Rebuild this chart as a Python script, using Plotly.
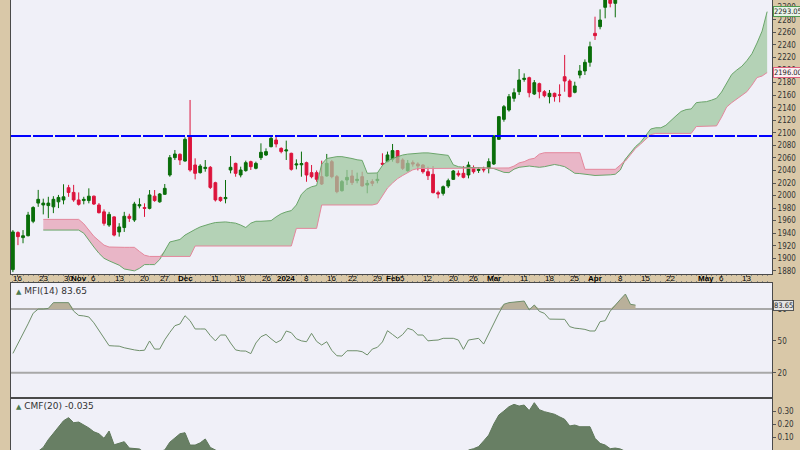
import plotly.graph_objects as go
import pandas as pd

# ---------------- data ----------------
holidays = ["2023-11-23", "2023-12-25", "2024-01-01", "2024-01-15", "2024-02-19", "2024-03-29"]
all_dates = [d.strftime("%Y-%m-%d") for d in pd.bdate_range("2023-10-13", "2024-05-17")
             if d.strftime("%Y-%m-%d") not in holidays]

# OHLC (Oct 13 2023 .. Apr 11 2024)
opens = [1882, 1941, 1933, 1936, 1959, 1988, 1985, 1984, 1982, 1990,
         1993, 2012.5, 2005, 1993, 1992, 1992, 1999, 1985, 1974, 1953,
         1966, 1942, 1949, 1967, 1961, 1983.5, 1981, 1979.6, 1999, 1990,
         2002, 2032.7, 2060.4, 2065.7, 2055, 2092.8, 2048.7, 2036.5, 2043, 2045,
         2020.5, 1997, 1995, 2040.7, 2051.3, 2032.8, 2039.7, 2054, 2043.4, 2060.4,
         2064.6, 2077.9, 2088.5, 2075.2, 2071, 2067.3, 2048.7, 2049, 2052.4, 2036.5,
         2036.5, 2030.1, 2031.2, 2054, 2030.1, 2007.8, 2024.8, 2031.2, 2023.8, 2030.1,
         2016.8, 2022.2, 2023.8, 2051.4, 2054, 2057.8, 2071.6, 2056.7, 2039.7, 2052.4,
         2050.3, 2048.7, 2038, 2033.8, 2004.6, 2003.5, 2015.2, 2025.8, 2035.4, 2035.4,
         2032.8, 2043.4, 2040, 2042, 2043.4, 2050.3, 2089.6, 2121.4, 2136.3, 2154.9,
         2165.5, 2185, 2187.8, 2161.8, 2178.3, 2165.5, 2157.6, 2162.9, 2160.4, 2189.4,
         2182.5, 2164.5, 2192.1, 2198.5, 2212.3, 2258.5, 2269.1, 2299.9, 2316, 2306.3,
         2330, 2340, 2353, 2346]
highs = [1945, 1943, 1945, 1974, 1983, 2009, 1995, 1998, 1999, 2001,
         2018, 2017, 2017, 2005, 1998, 2011.5, 2000, 1988, 1978, 1974,
         1967, 1956, 1974, 1971, 1990, 1995.6, 1987.6, 2008.8, 2008.8, 2004,
         2018.4, 2064.6, 2072.6, 2067.3, 2092.8, 2152.3, 2059.3, 2050, 2056.6, 2047,
         2022, 1998.2, 2024.8, 2063, 2052.4, 2046, 2055.6, 2055.6, 2054, 2083.2,
         2075.2, 2093.8, 2096.5, 2076.8, 2087.5, 2068.3, 2057.7, 2070, 2054, 2048.7,
         2040, 2055.6, 2066.3, 2056.7, 2032.8, 2024.8, 2040.8, 2040.8, 2036.5, 2038,
         2024.8, 2026, 2035.4, 2067.3, 2070, 2082.2, 2072.6, 2059.3, 2056.7, 2056,
         2053, 2050, 2046, 2047, 2007.8, 2016, 2027, 2040.7, 2040, 2047,
         2054, 2048, 2045, 2046, 2059.3, 2096.5, 2126.8, 2144.3, 2161.8, 2170.8,
         2201.6, 2194.7, 2189.4, 2184.1, 2179.9, 2168, 2168.2, 2164, 2177.2, 2224,
         2185.2, 2181.4, 2208, 2217, 2245.2, 2285, 2296.7, 2320, 2325, 2338,
         2352, 2365, 2359, 2378]
lows = [1878, 1921, 1924, 1935, 1956, 1982, 1970, 1964, 1972, 1980,
        1986, 1998, 1990, 1984, 1986, 1987.6, 1985, 1971.5, 1952, 1950,
        1935, 1934.5, 1942, 1958, 1958, 1979.6, 1966, 1978, 1990, 1988.6,
        2001, 2030, 2056.6, 2048.7, 2054, 2038, 2025.8, 2035, 2038, 2010.4,
        1990.5, 1990, 1987.6, 2035.4, 2030, 2029, 2038, 2040.7, 2041.8, 2056.7,
        2063, 2076.8, 2076.8, 2067.3, 2056.7, 2039.7, 2041.8, 2030, 2022, 2027.5,
        2022, 2016.8, 2030.1, 2027.5, 2003.6, 2006.2, 2016.8, 2016.8, 2019.5, 2014.2,
        2003.6, 2015, 2019.5, 2047.1, 2053, 2054, 2051.4, 2040.8, 2038, 2046,
        2040, 2035, 2024.8, 2003.5, 1995.6, 2000, 2012, 2024.8, 2030, 2027.4,
        2027.4, 2035, 2036, 2037, 2035.4, 2048.7, 2088.5, 2117.7, 2133.7, 2149.6,
        2160.2, 2181.4, 2156.5, 2160.2, 2154.9, 2156.5, 2146.9, 2149.6, 2148.6, 2165.5,
        2156.5, 2162.9, 2186.8, 2192.1, 2205.3, 2247.9, 2264.9, 2282.4, 2299.9, 2284,
        2322, 2330, 2325, 2340]
closes = [1942, 1934.5, 1936, 1969, 1981, 1994, 1988, 1988, 1994, 1997,
          1998, 2005, 1993, 1986, 1994, 1999, 1986.5, 1972.7, 1955.7, 1970,
          1937, 1950, 1967, 1963.7, 1986.5, 1985.5, 1979.6, 2001, 1992, 2002.5,
          2011.5, 2060.4, 2066.2, 2056.6, 2089.6, 2040.7, 2035.4, 2047, 2045, 2013,
          1993, 1992, 1997, 2045, 2035.4, 2040.7, 2052.4, 2046, 2051.3, 2068.9,
          2070, 2091.2, 2082.2, 2070, 2072.6, 2041.8, 2050.3, 2051, 2032.7, 2030.1,
          2025.9, 2018.4, 2051.4, 2030.1, 2006.2, 2022.2, 2029, 2020.6, 2025.9, 2015.3,
          2019.5, 2019.5, 2025.9, 2050, 2064.7, 2071.6, 2052.4, 2043.4, 2051.4, 2050.3,
          2047.1, 2038, 2031.7, 2004.6, 2002.5, 2014.1, 2023.7, 2039.1, 2032.8, 2029,
          2048.7, 2038, 2041.8, 2041, 2054, 2094.9, 2125.7, 2141.6, 2157.6, 2163.9,
          2184.1, 2186.8, 2163.9, 2179.9, 2165.5, 2159.1, 2162.9, 2157.6, 2160, 2182.5,
          2157.6, 2174.6, 2198.5, 2212.3, 2237.2, 2254.8, 2279.7, 2316, 2306.3, 2330,
          2340, 2353, 2348, 2372]

# Ichimoku cloud (projected), trading days 6 .. 149
cloud_start = 6
span_a = [1945, 1945, 1945, 1945, 1945, 1945, 1945, 1945, 1940, 1928,
          1918, 1908, 1900, 1896, 1893, 1889, 1883, 1881, 1880, 1884,
          1890, 1890, 1890, 1898, 1912, 1926, 1928, 1930, 1937, 1942,
          1946, 1950, 1953, 1955, 1957, 1958, 1958, 1957, 1956, 1953,
          1949, 1956, 1959, 1959, 1959, 1960, 1966, 1971, 1974, 1976,
          1985, 2002, 2010, 2014, 2016, 2050, 2059, 2061, 2062, 2062,
          2061, 2059, 2057, 2056, 2035.5, 2035.5, 2036, 2048, 2055, 2059,
          2062, 2064.6, 2066, 2067, 2068, 2068, 2068, 2067, 2066.5, 2066,
          2064, 2049, 2046, 2045, 2045, 2044, 2044, 2044, 2044, 2043,
          2040, 2037, 2036.5, 2042, 2045, 2046, 2047, 2046, 2045, 2046,
          2047.5, 2049.5, 2048, 2046, 2041, 2035.5, 2035, 2034.5, 2033, 2032,
          2032, 2032.5, 2033, 2034, 2040.7, 2058, 2068, 2078, 2085, 2096,
          2106, 2108, 2108, 2112, 2120, 2127, 2134, 2137, 2138, 2148,
          2149, 2149.6, 2152, 2155, 2165, 2180, 2193, 2200, 2206, 2215,
          2226, 2243, 2262, 2293.05]
span_b = [1962, 1962, 1962, 1962, 1962, 1962, 1962, 1962, 1955, 1944,
          1935, 1928, 1921, 1918, 1917.5, 1917.5, 1917.5, 1917.5, 1917.5, 1911,
          1905, 1903, 1903, 1903, 1903, 1903, 1903, 1903, 1903, 1903,
          1919.6, 1919.6, 1919.6, 1919.6, 1919.6, 1919.6, 1919.6, 1919.6, 1919.6, 1919.6,
          1919.6, 1919.6, 1919.6, 1919.6, 1919.6, 1919.6, 1919.6, 1919.6, 1919.6, 1919.6,
          1947.7, 1947.7, 1947.7, 1947.7, 1947.7, 1985, 1985, 1985, 1985, 1985,
          1985, 1985, 1985, 1985, 1985, 1985, 1987, 2000, 2012, 2020,
          2027, 2032, 2037, 2041, 2043, 2043, 2043, 2043, 2043, 2043,
          2043, 2043, 2043, 2043, 2043, 2043, 2043, 2043, 2043, 2043,
          2043, 2043, 2044, 2047, 2052, 2054, 2057.7, 2059.3, 2066, 2068.3,
          2068.3, 2068.3, 2068.3, 2068.3, 2068.3, 2068.3, 2068.3, 2041.8, 2041.8, 2041.8,
          2041.8, 2041.8, 2041.8, 2041.8, 2048.7, 2055, 2065, 2075, 2082, 2090,
          2097, 2099, 2099, 2099, 2099, 2099, 2099, 2099, 2099, 2110,
          2110, 2110, 2110, 2111, 2125, 2141, 2148, 2154, 2160, 2165.5,
          2176, 2188, 2190.5, 2196]

resistance_level = 2095

mfi = [38.2, 47, 57, 66, 76, 80, 80, 80.6, 86, 86,
       86, 86, 78, 74, 73.5, 72.5, 67, 60, 52, 45.5,
       45.2, 45, 43.5, 42.3, 41.5, 40.8, 41.2, 49.9, 42.3, 42.3,
       51, 58, 64.3, 65.9, 73.7, 69, 61.2, 61.2, 61.2, 55,
       50, 55.5, 55.5, 48, 41.5, 40.5, 40.4, 38, 48, 53.9,
       56.1, 52, 48.3, 50.8, 59.3, 57.7, 52, 50, 49.2, 57.1,
       49.5, 46.1, 49.2, 41, 36, 35.7, 40.7, 40.7, 40.7, 39.8,
       36.7, 42.3, 43.9, 49, 59.6, 56, 52.4, 56, 61.8, 60.2,
       55.5, 55.5, 50, 50.5, 50.8, 52.4, 52.4, 52.4, 50.8, 42,
       50.8, 51.8, 52.4, 47, 57, 67, 76, 84.5, 86, 86.5,
       87, 87.5, 79.1, 83.8, 77.8, 75.9, 70.5, 70.3, 70.3, 70.3,
       63.4, 62, 61.5, 60.8, 59.3, 59.3, 68.1, 69, 78, 84,
       89, 94.1, 84.4, 83.65]
mfi_upper, mfi_lower = 80, 20

cmf = [-0.10, -0.08, -0.06, -0.05, -0.03, -0.01, 0.02, 0.08, 0.128, 0.185,
       0.225, 0.249, 0.21, 0.215, 0.195, 0.17, 0.14, 0.125, 0.09, 0.146,
       0.04, 0.05, 0.064, 0.015, 0.01, 0.008, -0.02, -0.03, -0.02, -0.01,
       0.0, 0.06, 0.09, 0.125, 0.133, 0.038, 0.038, 0.055, 0.085, 0.02,
       0.0, -0.02, -0.04, -0.05, -0.07, -0.09, -0.10, -0.11, -0.09, -0.06,
       -0.05, -0.04, -0.05, -0.06, -0.05, -0.07, -0.08, -0.09, -0.10, -0.08,
       -0.09, -0.11, -0.10, -0.12, -0.14, -0.13, -0.12, -0.13, -0.12, -0.14,
       -0.15, -0.13, -0.12, -0.10, -0.07, -0.06, -0.08, -0.09, -0.07, -0.06,
       -0.07, -0.08, -0.09, -0.12, -0.13, -0.11, -0.09, -0.06, -0.05, -0.04,
       0.0, 0.01, 0.026, 0.07, 0.115, 0.2, 0.269, 0.30, 0.333, 0.351,
       0.338, 0.346, 0.303, 0.364, 0.31, 0.295, 0.287, 0.275, 0.255, 0.236,
       0.185, 0.192, 0.179, 0.179, 0.179, 0.09, 0.051, 0.038, 0.01, 0.015,
       0.008, -0.01, -0.02, -0.035]

tick_dates = ["2023-10-16", "2023-10-23", "2023-10-30", "2023-11-01", "2023-11-06", "2023-11-13",
              "2023-11-20", "2023-11-27", "2023-12-01", "2023-12-11", "2023-12-18", "2023-12-26",
              "2024-01-02", "2024-01-08", "2024-01-16", "2024-01-22", "2024-01-29", "2024-02-01",
              "2024-02-05", "2024-02-12", "2024-02-20", "2024-02-26", "2024-03-01", "2024-03-11",
              "2024-03-18", "2024-03-25", "2024-04-01", "2024-04-08", "2024-04-15", "2024-04-22",
              "2024-05-01", "2024-05-06", "2024-05-13"]
tick_labels = ["16", "23", "30", "<b>Nov</b>", "6", "13", "20", "27", "<b>Dec</b>", "11", "18", "26",
               "<b>2024</b>", "8", "16", "22", "29", "<b>Feb</b>", "5", "12", "20", "26", "<b>Mar</b>",
               "11", "18", "25", "<b>Apr</b>", "8", "15", "22", "<b>May</b>", "6", "13"]
price_ticks = list(range(1880, 2301, 20))

# ---------------- figure ----------------
n = len(opens)
xi = list(range(n))
xc = list(range(cloud_start, cloud_start + len(span_a)))
top_ab = [max(a, b) for a, b in zip(span_a, span_b)]

GREEN_FILL = "rgba(160,200,160,0.75)"
PINK_FILL = "rgba(230,160,180,0.72)"
FONT = "DejaVu Sans"
NARROW = "DejaVu Sans Condensed, Liberation Sans Narrow, DejaVu Sans"

fig = go.Figure()
# cloud fills
fig.add_trace(go.Scatter(x=xc, y=span_b, mode="lines", line=dict(width=0), hoverinfo="skip", showlegend=False))
fig.add_trace(go.Scatter(x=xc, y=top_ab, mode="lines", line=dict(width=0), fill="tonexty",
                         fillcolor=GREEN_FILL, hoverinfo="skip", showlegend=False))
fig.add_trace(go.Scatter(x=xc, y=span_a, mode="lines", line=dict(width=0), hoverinfo="skip", showlegend=False))
fig.add_trace(go.Scatter(x=xc, y=top_ab, mode="lines", line=dict(width=0), fill="tonexty",
                         fillcolor=PINK_FILL, hoverinfo="skip", showlegend=False))
fig.add_trace(go.Scatter(x=xc, y=span_a, mode="lines", line=dict(color="#6aa56a", width=1), showlegend=False))
fig.add_trace(go.Scatter(x=xc, y=span_b, mode="lines", line=dict(color="#e4879c", width=1), showlegend=False))

# candles
fig.add_trace(go.Candlestick(
    x=xi, open=opens, high=highs, low=lows, close=closes, whiskerwidth=0,
    increasing=dict(line=dict(color="#0a6e0a", width=1), fillcolor="#0a6e0a"),
    decreasing=dict(line=dict(color="#dc143c", width=1), fillcolor="#dc143c"),
    showlegend=False, xaxis="x", yaxis="y"))

# MFI
fig.add_trace(go.Scatter(x=xi, y=[mfi_upper] * n, mode="lines", line=dict(width=0),
                         xaxis="x2", yaxis="y2", showlegend=False, hoverinfo="skip"))
fig.add_trace(go.Scatter(x=xi, y=[max(v, mfi_upper) for v in mfi], mode="lines", line=dict(width=0),
                         fill="tonexty", fillcolor="#b9b09a", xaxis="x2", yaxis="y2",
                         showlegend=False, hoverinfo="skip"))
fig.add_trace(go.Scatter(x=xi, y=mfi, mode="lines", line=dict(color="#6f8f6b", width=1),
                         xaxis="x2", yaxis="y2", showlegend=False))

# CMF
fig.add_trace(go.Scatter(x=xi, y=cmf, mode="lines", line=dict(color="#5f785b", width=1),
                         fill="tozeroy", fillcolor="#687f64", xaxis="x3", yaxis="y3", showlegend=False))

xr = [-0.375, 149.96]
tickvals = [all_dates.index(d) for d in tick_dates]
axis_common = dict(showgrid=False, zeroline=False, showline=True, linecolor="#4a4a4a",
                   linewidth=1, mirror=True)
PRICE_BOTTOM = 1 - 274 / 450
MFI_TOP = 1 - 283 / 450
MFI_BOTTOM = 1 - 398 / 450
TICKFONT = dict(size=8, color="#333", family=NARROW)

fig.update_layout(
    width=800, height=450,
    margin=dict(l=11, r=28, t=0, b=0, autoexpand=False),
    paper_bgcolor="#d9c8a8", plot_bgcolor="#f0f0f8",
    font=dict(family=FONT, size=8, color="#333333"),
    showlegend=False, boxgap=0.22,
    xaxis=dict(domain=[0, 1], range=xr, anchor="y", tickmode="array", tickvals=tickvals,
               showticklabels=False, ticks="outside", ticklen=2, tickcolor="#555",
               minor=dict(ticks="outside", ticklen=1, tickmode="linear", tick0=0, dtick=1,
                          tickcolor="#888"),
               rangeslider=dict(visible=False), **axis_common),
    yaxis=dict(domain=[PRICE_BOTTOM, 1], range=[1875, 2311.6], side="right", tickmode="array",
               tickvals=price_ticks, ticks="outside", ticklen=3, tickcolor="#555",
               tickfont=TICKFONT, **axis_common),
    xaxis2=dict(domain=[0, 1], range=xr, anchor="y2", matches="x", side="top", showticklabels=False,
                ticks="outside", ticklen=1, tickmode="linear", tick0=0, dtick=1, tickcolor="#888",
                **axis_common),
    yaxis2=dict(domain=[MFI_BOTTOM, MFI_TOP], range=[-3.8, 104.5], side="right",
                tickmode="array", tickvals=[20, 50, 80], ticks="outside", ticklen=3, tickcolor="#555",
                tickfont=TICKFONT, **axis_common),
    xaxis3=dict(domain=[0, 1], range=xr, anchor="y3", matches="x", showticklabels=False, **axis_common),
    yaxis3=dict(domain=[0, MFI_BOTTOM], range=[0, 0.40], side="right", tickmode="array",
                tickvals=[0, 0.1, 0.2, 0.3], ticktext=["0.00", "0.10", "0.20", "0.30"],
                ticks="outside", ticklen=3, tickcolor="#555",
                tickfont=TICKFONT, **axis_common),
)

# date labels inside the strip between price and MFI panels
for tv, tl in zip(tickvals, tick_labels):
    fig.add_annotation(x=tv, xref="x", y=(PRICE_BOTTOM + MFI_TOP) / 2, yref="paper", text=tl,
                       showarrow=False, xanchor="center", yanchor="middle", borderpad=0,
                       font=dict(size=8, color="#000000", family="Liberation Sans, Arial, sans-serif"))

# resistance line and MFI bands
fig.add_shape(type="line", xref="x domain", yref="y", x0=0, x1=1, y0=resistance_level, y1=resistance_level,
              line=dict(color="#0000ff", width=2, dash="20px,2px"))
for lvl in (mfi_upper, mfi_lower):
    fig.add_shape(type="line", xref="x2 domain", yref="y2", x0=0, x1=1, y0=lvl, y1=lvl,
                  line=dict(color="#a8a8a8", width=2), layer="below")

# value tags on the right
def tag(text, y, yref, border, bg="#ffffff"):
    fig.add_annotation(x=1, xref="paper", xanchor="left", xshift=1, y=y, yref=yref, text=text,
                       showarrow=False, font=dict(size=7.5, color="#222", family=NARROW), bgcolor=bg,
                       bordercolor=border, borderwidth=1, borderpad=0)

tag(f"{span_a[-1]:.2f}", span_a[-1], "y", "#4f9a4f", "#e8f3e8")
tag(f"{span_b[-1]:.2f}", span_b[-1], "y", "#e0607e", "#fbeef1")
tag(f"{mfi[-1]:.2f}", mfi[-1], "y2", "#555555", "#e4e4e4")

# panel titles
fig.add_annotation(x=0.004, xref="paper", y=MFI_TOP, yref="paper", yanchor="top", xanchor="left",
                   yshift=-1, showarrow=False, font=dict(size=9, color="#333"),
                   text=f"<span style='color:#4d7a4d;font-size:7px'>▲</span> MFI(14) {mfi[-1]:.2f}")
fig.add_annotation(x=0.004, xref="paper", y=MFI_BOTTOM, yref="paper", yanchor="top", xanchor="left",
                   yshift=-1, showarrow=False, font=dict(size=9, color="#333"),
                   text=f"<span style='color:#4d7a4d;font-size:7px'>▲</span> CMF(20) {cmf[-1]:.3f}")

fig.write_html("out.html", config={"displayModeBar": False},
               post_script="document.body.style.margin='0';document.body.style.overflow='hidden';")
